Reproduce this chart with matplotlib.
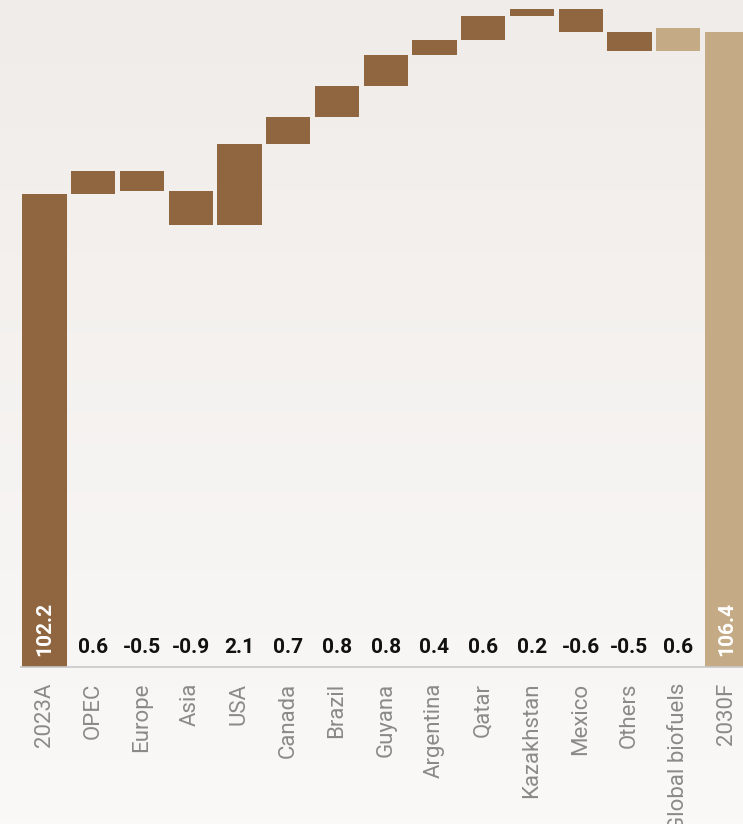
import numpy as np
import matplotlib
matplotlib.use("Agg")
from matplotlib import pyplot as plt
from matplotlib.colors import LinearSegmentedColormap

plt.rcParams['font.family'] = ['Roboto', 'DejaVu Sans']

# waterfall data (mb/d)
labels = ['2023A', 'OPEC', 'Europe', 'Asia', 'USA', 'Canada', 'Brazil', 'Guyana',
          'Argentina', 'Qatar', 'Kazakhstan', 'Mexico', 'Others', 'Global biofuels', '2030F']
start_value = 102.2
changes = [0.6, -0.5, -0.9, 2.1, 0.7, 0.8, 0.8, 0.4, 0.6, 0.2, -0.6, -0.5, 0.6]
end_value = 106.4

dark = '#8f6640'
light = '#c4aa85'

# build floating bars
levels = np.concatenate([[start_value], start_value + np.cumsum(changes)])
bottoms = [90] + list(np.minimum(levels[:-1], levels[1:])) + [90]
heights = [start_value - 90] + [abs(c) for c in changes] + [end_value - 90]
colors = [dark] * 13 + [light, light]  # biofuels and 2030F lighter

fig = plt.figure(figsize=(7.43, 8.24), dpi=100)

# background gradient
bg = fig.add_axes([0, 0, 1, 1], zorder=-1)
cmap = LinearSegmentedColormap.from_list('bg', ['#faf9f8', '#f0ece9'])
bg.imshow(np.linspace(0, 1, 256).reshape(-1, 1), aspect='auto', cmap=cmap,
          origin='lower', extent=[0, 1, 0, 1])
bg.axis('off')

ax = fig.add_axes([0, (824 - 667) / 824, 1, 667 / 824])
ax.patch.set_alpha(0)
x = np.arange(len(labels))
ax.bar(x, heights, bottom=bottoms, width=0.91, color=colors, zorder=2)

ax.set_xlim(-0.913, 14.33)
ax.set_ylim(90, 107.22)
ax.hlines(90, -0.5, 15, color='#c8c8c8', lw=1.2, zorder=3, clip_on=False)

# value labels
for i, c in enumerate(changes):
    ax.annotate(f'{c:.1f}', (i + 1, 90), xytext=(0, 10), textcoords='offset points',
                ha='center', va='baseline', fontsize=15, fontweight='bold', color='#111111')
for i, v in [(0, start_value), (14, end_value)]:
    ax.annotate(f'{v:.1f}', (i, 90), xytext=(0, 8), textcoords='offset points',
                ha='center', va='bottom', rotation=90, fontsize=15,
                fontweight='bold', color='white', zorder=4)

ax.set_xticks(x)
ax.set_xticklabels(labels, rotation=90, fontsize=16, color='#8a8a8a')
ax.tick_params(axis='x', length=0, pad=11.5)
ax.set_yticks([])
for s in ax.spines.values():
    s.set_visible(False)

plt.savefig('out.png', dpi=100)
